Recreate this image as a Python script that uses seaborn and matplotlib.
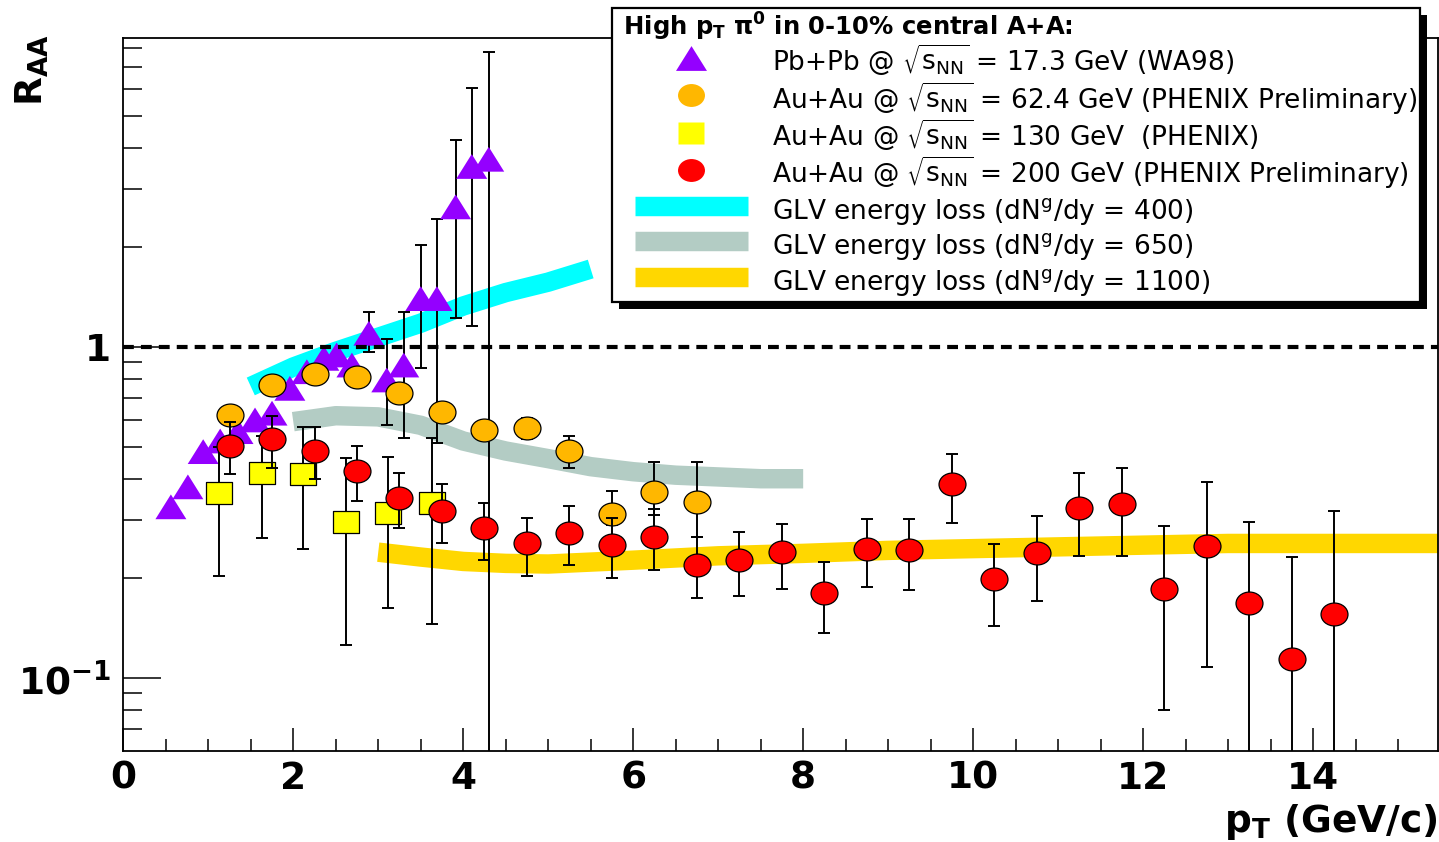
import numpy as np
import matplotlib
matplotlib.use("Agg")
import matplotlib.pyplot as plt
import seaborn as sns
from matplotlib.path import Path
from matplotlib.markers import MarkerStyle
from matplotlib.lines import Line2D
from matplotlib.legend_handler import HandlerLine2D
from matplotlib.patches import Rectangle
from matplotlib.ticker import LogLocator, NullFormatter, MultipleLocator

# ---------------- data ----------------
# WA98 Pb+Pb 17.3 GeV
wa98_x = [0.56, 0.76, 0.94, 1.14, 1.35, 1.55, 1.75, 1.96, 2.16, 2.36, 2.51, 2.69,
          2.89, 3.10, 3.30, 3.50, 3.69, 3.91, 4.10, 4.30]
wa98_y = [0.329, 0.378, 0.483, 0.52, 0.555, 0.602, 0.631, 0.75, 0.842, 0.924, 0.946, 0.882,
          1.10, 0.795, 0.882, 1.40, 1.40, 2.65, 3.51, 3.69]
wa98_lo = [0.329, 0.378, 0.483, 0.52, 0.555, 0.602, 0.631, 0.75, 0.842, 0.924, 0.946, 0.882,
           0.968, 0.581, 0.532, 0.866, 0.512, 1.22, 1.157, 0.01]
wa98_hi = [0.329, 0.378, 0.483, 0.52, 0.555, 0.602, 0.631, 0.75, 0.842, 0.924, 0.946, 0.882,
           1.273, 1.055, 1.273, 2.03, 2.43, 4.22, 6.06, 7.77]

# PHENIX Au+Au 62.4 GeV (preliminary)
ph62_x = [1.25, 1.75, 2.25, 2.75, 3.25, 3.75, 4.25, 4.75, 5.25, 5.75, 6.25, 6.75]
ph62_y = [0.623, 0.768, 0.827, 0.812, 0.725, 0.635, 0.561, 0.568, 0.485, 0.313, 0.364, 0.341]
ph62_lo = [0.60, 0.74, 0.80, 0.785, 0.70, 0.61, 0.54, 0.526, 0.432, 0.29, 0.31, 0.267]
ph62_hi = [0.65, 0.80, 0.86, 0.84, 0.75, 0.66, 0.585, 0.61, 0.538, 0.368, 0.450, 0.450]

# PHENIX Au+Au 130 GeV
ph130_x = [1.13, 1.63, 2.12, 2.62, 3.12, 3.63]
ph130_y = [0.361, 0.417, 0.412, 0.296, 0.316, 0.337]
ph130_lo = [0.203, 0.265, 0.245, 0.126, 0.163, 0.146]
ph130_hi = [0.50, 0.54, 0.574, 0.461, 0.466, 0.530]

# PHENIX Au+Au 200 GeV (preliminary)
ph200_x = [1.25, 1.75, 2.25, 2.75, 3.25, 3.75, 4.25, 4.75, 5.25, 5.75, 6.25, 6.75, 7.25,
           7.75, 8.25, 8.75, 9.25, 9.75, 10.25, 10.75, 11.25, 11.75, 12.25, 12.75, 13.25,
           13.75, 14.25]
ph200_y = [0.503, 0.526, 0.486, 0.422, 0.349, 0.320, 0.283, 0.256, 0.274, 0.253, 0.267, 0.220,
           0.227, 0.240, 0.181, 0.245, 0.243, 0.385, 0.199, 0.239, 0.327, 0.335, 0.186, 0.250,
           0.168, 0.114, 0.156]
ph200_lo = [0.413, 0.432, 0.398, 0.343, 0.283, 0.255, 0.227, 0.204, 0.220, 0.200, 0.212, 0.174,
            0.177, 0.186, 0.137, 0.188, 0.184, 0.295, 0.144, 0.171, 0.234, 0.234, 0.080, 0.108,
            0.01, 0.01, 0.01]
ph200_hi = [0.592, 0.620, 0.574, 0.503, 0.417, 0.385, 0.337, 0.305, 0.331, 0.305, 0.323, 0.267,
            0.277, 0.292, 0.224, 0.302, 0.302, 0.475, 0.254, 0.309, 0.417, 0.430, 0.288, 0.390,
            0.296, 0.232, 0.320]

# GLV energy-loss curves
glv400_x = [1.5, 2.0, 2.5, 3.0, 3.5, 4.0, 4.5, 5.0, 5.5]
glv400_y = [0.76, 0.87, 0.97, 1.07, 1.18, 1.33, 1.46, 1.57, 1.72]
glv650_x = [2.0, 2.5, 3.0, 3.5, 4.0, 4.5, 5.0, 5.5, 6.0, 6.5, 7.0, 7.5, 8.0]
glv650_y = [0.595, 0.62, 0.615, 0.58, 0.52, 0.485, 0.46, 0.435, 0.42, 0.41, 0.405, 0.40, 0.40]
glv1100_x = [3.0, 3.5, 4.0, 4.5, 5.0, 5.5, 6.0, 7.0, 8.0, 9.0, 10.0, 11.0, 12.0, 13.0, 14.0, 15.5]
glv1100_y = [0.240, 0.232, 0.225, 0.222, 0.221, 0.224, 0.227, 0.234, 0.238, 0.243, 0.246,
             0.249, 0.252, 0.255, 0.255, 0.255]

x_ticks = [0, 2, 4, 6, 8, 10, 12, 14]
x_tick_labels = ["0", "2", "4", "6", "8", "10", "12", "14"]
y_ticks = [0.1, 1]
y_tick_labels = [r"$10^{-1}$", "1"]

legend_title = r" High p$_T$ $\pi^0$ in 0-10% central A+A:"
labels = [
    r"Pb+Pb @ $\sqrt{s_{NN}}$ = 17.3 GeV (WA98)",
    r"Au+Au @ $\sqrt{s_{NN}}$ = 62.4 GeV (PHENIX Preliminary)",
    r"Au+Au @ $\sqrt{s_{NN}}$ = 130 GeV  (PHENIX)",
    r"Au+Au @ $\sqrt{s_{NN}}$ = 200 GeV (PHENIX Preliminary)",
    r"GLV energy loss (dN$^{g}$/dy = 400)",
    r"GLV energy loss (dN$^{g}$/dy = 650)",
    r"GLV energy loss (dN$^{g}$/dy = 1100)",
]

# ---------------- style ----------------
sns.set_style("ticks")
plt.rcParams["font.family"] = ["DejaVu Sans"]
plt.rcParams["mathtext.fontset"] = "dejavusans"
plt.rcParams["mathtext.default"] = "regular"
for k in ["text.color", "axes.labelcolor", "xtick.color", "ytick.color", "axes.edgecolor"]:
    plt.rcParams[k] = "black"

C_PURPLE = "#9400FF"
C_ORANGE = "#FFB700"
C_YELLOW = "#FFFF00"
C_RED = "#FF0000"
C_CYAN = "#00FFFF"
C_GRAY = "#B3CCC4"
C_GOLD = "#FFD700"

tri = MarkerStyle(Path([(-1, -0.8), (1, -0.8), (0, 0.8), (-1, -0.8)], closed=True))
circ_path = Path.unit_circle()
circ = MarkerStyle(Path(circ_path.vertices * np.array([1.0, 0.85]), circ_path.codes))
sq = MarkerStyle(Path([(-1, -0.85), (1, -0.85), (1, 0.85), (-1, 0.85), (-1, -0.85)], closed=True))

W, H = 1439, 842
fig = plt.figure(figsize=(W / 100, H / 100), dpi=100)
ax = fig.add_axes([123.3 / W, 1 - 751 / H, (1438 - 123.3) / W, (751 - 38.3) / H])
ax.set_yscale("log")
ax.set_xlim(0, 15.47)
ax.set_ylim(0.0602, 8.56)

# bands
for bx, by, bc in [(glv400_x, glv400_y, C_CYAN), (glv650_x, glv650_y, C_GRAY),
                   (glv1100_x, glv1100_y, C_GOLD)]:
    sns.lineplot(x=bx, y=by, ax=ax, color=bc, linewidth=14, solid_capstyle="butt",
                 sort=False, estimator=None, legend=False, zorder=1)

def series(x, y, lo, hi, marker, size, color, edge, z):
    x = np.asarray(x); y = np.asarray(y)
    err = np.vstack([y - np.asarray(lo), np.asarray(hi) - y])
    ax.errorbar(x, y, yerr=err, fmt="none", ecolor="black", elinewidth=1.4,
                capsize=4.5, capthick=1.4, zorder=z)
    sns.scatterplot(x=x, y=y, ax=ax, marker=marker, s=size ** 2, color=color,
                    edgecolor=edge, linewidth=0.9 if edge != "none" else 0,
                    legend=False, zorder=z + 0.5)

series(wa98_x, wa98_y, wa98_lo, wa98_hi, tri, 22.3, C_PURPLE, "none", 3)
series(ph130_x, ph130_y, ph130_lo, ph130_hi, sq, 18.7, C_YELLOW, "black", 4)
series(ph62_x, ph62_y, ph62_lo, ph62_hi, circ, 19.4, C_ORANGE, "black", 5)
series(ph200_x, ph200_y, ph200_lo, ph200_hi, circ, 19.4, C_RED, "black", 6)

ax.axhline(1.0, color="black", lw=3, ls=(0, (2.6, 1.7)), zorder=10)

# axes / ticks
ax.set_xticks(x_ticks, labels=x_tick_labels, fontsize=27, fontweight="bold")
ax.xaxis.set_minor_locator(MultipleLocator(0.5))
ax.set_yticks(y_ticks, labels=y_tick_labels, fontsize=27, fontweight="bold")
ax.yaxis.set_minor_locator(LogLocator(base=10, subs=np.arange(2, 10), numticks=30))
ax.yaxis.set_minor_formatter(NullFormatter())
ax.tick_params(axis="x", which="major", direction="in", length=16.5, width=1.1, pad=7)
ax.tick_params(axis="x", which="minor", direction="in", length=8.6, width=1.1)
ax.tick_params(axis="y", which="major", direction="in", length=27, width=1.1, pad=9)
ax.tick_params(axis="y", which="minor", direction="in", length=14, width=1.1)
ax.tick_params(top=False, right=False, which="both")
for s in ax.spines.values():
    s.set_linewidth(1.3)
    s.set_color("black")

ax.set_xlabel(r"p$_T$ (GeV/c)", fontsize=27, fontweight="bold", loc="right", labelpad=4)
ax.set_ylabel(r"R$_{AA}$", fontsize=27, fontweight="bold", loc="top")
ax.yaxis.set_label_coords(-0.055, 1.005)

# legend
handles = [
    Line2D([], [], ls="none", marker=tri, ms=22.3, mfc=C_PURPLE, mec="none"),
    Line2D([], [], ls="none", marker=circ, ms=19.4, mfc=C_ORANGE, mec="none"),
    Line2D([], [], ls="none", marker=sq, ms=18.7, mfc=C_YELLOW, mec="none"),
    Line2D([], [], ls="none", marker=circ, ms=19.4, mfc=C_RED, mec="none"),
    Line2D([], [], color=C_CYAN, lw=14, solid_capstyle="butt"),
    Line2D([], [], color=C_GRAY, lw=14, solid_capstyle="butt"),
    Line2D([], [], color=C_GOLD, lw=14, solid_capstyle="butt"),
]
leg = ax.legend(handles, labels, title=legend_title, loc="upper left",
                bbox_to_anchor=(612 / W, 1 - 8.3 / H), bbox_transform=fig.transFigure,
                borderaxespad=0, borderpad=0.1, fontsize=19,
                title_fontproperties={"weight": "bold", "size": 17.5},
                handlelength=5.05, handletextpad=0.91, handleheight=1.70,
                labelspacing=0.0, alignment="left", frameon=True, fancybox=False,
                edgecolor="black", framealpha=1,
                handler_map={Line2D: HandlerLine2D(xpad=0.77)})
leg.get_frame().set_linewidth(1.6)
leg.set_zorder(20)

fig.canvas.draw()
bb = leg.get_frame().get_window_extent().transformed(fig.transFigure.inverted())
shadow = Rectangle((bb.x0 + 7 / W, bb.y0 - 7 / H), bb.width, bb.height,
                   transform=fig.transFigure, facecolor="black", edgecolor="none",
                   clip_on=False, zorder=19)
ax.add_patch(shadow)

fig.savefig("out.png", dpi=100)
